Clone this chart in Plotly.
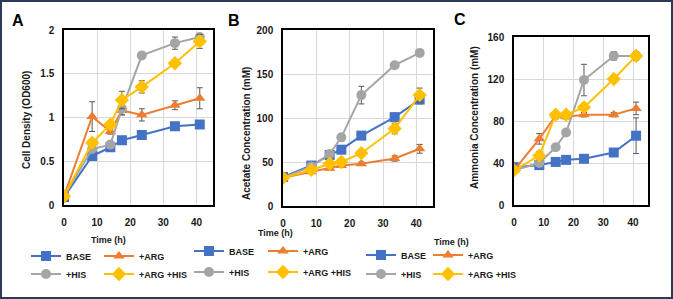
import plotly.graph_objects as go

W, H = 673, 299

time_h = [0, 8.5, 14, 17.5, 23.5, 33.5, 41]
series_names = ["BASE", "+ARG", "+HIS", "+ARG +HIS"]
series_colors = ["#4472C4", "#ED7D31", "#A5A5A5", "#FFC000"]
series_symbols = ["square", "triangle-up", "circle", "diamond"]
series_sizes = [10, 10, 10, 11]

# Panel A: cell density (OD600)
base_od = [0.09, 0.56, 0.66, 0.74, 0.80, 0.90, 0.92]
arg_od = [0.10, 1.01, 0.84, 1.08, 1.03, 1.14, 1.22]
his_od = [0.10, 0.64, 0.69, 1.10, 1.71, 1.85, 1.92]
arghis_od = [0.10, 0.71, 0.92, 1.20, 1.35, 1.62, 1.87]
base_od_err = [0.0, 0.02, 0.02, 0.02, 0.02, 0.03, 0.03]
arg_od_err = [0.0, 0.17, 0.03, 0.05, 0.07, 0.05, 0.12]
his_od_err = [0.0, 0.02, 0.02, 0.07, 0.02, 0.07, 0.03]
arghis_od_err = [0.0, 0.02, 0.03, 0.10, 0.07, 0.03, 0.08]

# Panel B: acetate (mM)
base_ac = [33, 46, 58, 64, 80, 101, 121]
arg_ac = [32, 39, 43, 46, 48, 54, 65]
his_ac = [32, 45, 59, 78, 126, 160, 174]
arghis_ac = [32, 41, 48, 50, 60, 88, 126]
base_ac_err = [2, 2, 2, 2, 3, 3, 5]
arg_ac_err = [1, 2, 2, 2, 2, 3, 5]
his_ac_err = [1, 2, 2, 2, 10, 2, 2]
arghis_ac_err = [1, 2, 2, 2, 2, 6, 8]

# Panel C: ammonia (mM)
base_nh = [36, 38, 41, 43, 44, 50, 66]
arg_nh = [33, 63, 85, 84, 86, 86, 92]
his_nh = [33, 40, 55, 69, 119, 142, 142]
arghis_nh = [33, 47, 86, 86, 93, 120, 142]
base_nh_err = [1, 1, 1, 1, 1, 2, 17]
arg_nh_err = [1, 5, 3, 2, 2, 2, 6]
his_nh_err = [1, 2, 2, 2, 15, 4, 4]
arghis_nh_err = [1, 4, 3, 2, 2, 3, 4]

panel_letters = ["A", "B", "C"]
y_titles = ["Cell Density (OD600)", "Acetate Concentration (mM)", "Ammonia Concentration (mM)"]
x_title = "Time (h)"
x_ticks = [0, 10, 20, 30, 40]
y_ticks = [[0, 0.5, 1, 1.5, 2], [0, 50, 100, 150, 200], [0, 40, 80, 120, 160]]
y_ranges = [[0, 2], [0, 200], [0, 160]]

panels = [
    ([base_od, arg_od, his_od, arghis_od], [base_od_err, arg_od_err, his_od_err, arghis_od_err]),
    ([base_ac, arg_ac, his_ac, arghis_ac], [base_ac_err, arg_ac_err, his_ac_err, arghis_ac_err]),
    ([base_nh, arg_nh, his_nh, arghis_nh], [base_nh_err, arg_nh_err, his_nh_err, arghis_nh_err]),
]

FONT = "Liberation Sans, Arial, sans-serif"
TXT = "#1a1a1a"

def px_x(p):
    return p / W

def px_y(p):
    return 1 - p / H

# plot areas in pixels: (left, right, top, bottom)
boxes = [(64, 213, 30, 205), (283, 433, 30, 206), (514, 648, 37, 205)]
# legend entry anchors in pixels (line start x, row centre y) per panel and series
legend_spots = [
    [(33, 256), (106, 256), (33, 274), (106, 274)],
    [(196, 251), (270, 251), (196, 272), (270, 272)],
    [(368, 255), (435, 255), (368, 274), (435, 274)],
]

fig = go.Figure()
layout_legends = {}
for i, (vals, errs) in enumerate(panels):
    ax = "" if i == 0 else str(i + 1)
    for j in range(4):
        k = 4 * i + j
        legend_id = "legend" + ("" if k == 0 else str(k + 1))
        fig.add_trace(go.Scatter(
            x=time_h, y=vals[j], name=series_names[j], mode="lines+markers",
            line=dict(color=series_colors[j], width=2),
            marker=dict(symbol=series_symbols[j], color=series_colors[j], size=series_sizes[j]),
            error_y=dict(type="data", array=errs[j], visible=True, color="#595959",
                         thickness=1, width=3),
            xaxis="x" + ax, yaxis="y" + ax, legend=legend_id,
        ))
        lx, ly = legend_spots[i][j]
        layout_legends[legend_id] = dict(
            xref="container", yref="container",
            x=px_x(lx - 7), y=px_y(ly), xanchor="left", yanchor="middle",
            orientation="h", bgcolor="rgba(0,0,0,0)", font=dict(size=9, color=TXT),
            itemwidth=30,
        )

layout = dict(
    width=W, height=H, margin=dict(l=0, r=0, t=0, b=0, autoexpand=False),
    paper_bgcolor="white", plot_bgcolor="white",
    font=dict(family=FONT, size=10, color=TXT, weight="bold"),
    showlegend=True,
)
layout.update(layout_legends)

annotations = []
for i, (l, r, t, b) in enumerate(boxes):
    ax = "" if i == 0 else str(i + 1)
    layout["xaxis" + ax] = dict(
        domain=[px_x(l), px_x(r)], range=[0, 45], tickvals=x_ticks,
        showline=True, linecolor="black", linewidth=1.5, mirror=True,
        showgrid=True, gridcolor="#D9D9D9", gridwidth=1, zeroline=False,
        anchor="y" + ax, tickfont=dict(size=10, color=TXT), ticklabelstandoff=7,
    )
    layout["yaxis" + ax] = dict(
        domain=[px_y(b), px_y(t)], range=y_ranges[i], tickvals=y_ticks[i],
        showline=True, linecolor="black", linewidth=1.5, mirror=True,
        showgrid=True, gridcolor="#D9D9D9", gridwidth=1, zeroline=False,
        anchor="x" + ax, tickfont=dict(size=10, color=TXT), ticklabelstandoff=6,
    )

letter_pos = [(18, 21), (234, 21), (460, 20)]
ytitle_pos = [(27, 120), (247, 133), (475, 118)]
xtitle_pos = [(108, 240), (275, 233), (452, 242)]
for i in range(3):
    annotations.append(dict(text=panel_letters[i], x=px_x(letter_pos[i][0]), y=px_y(letter_pos[i][1]),
                            xref="paper", yref="paper", showarrow=False, xanchor="center", yanchor="middle",
                            font=dict(size=16, color="black", weight="bold")))
    annotations.append(dict(text=y_titles[i], x=px_x(ytitle_pos[i][0]), y=px_y(ytitle_pos[i][1]),
                            xref="paper", yref="paper", showarrow=False, textangle=-90,
                            xanchor="center", yanchor="middle",
                            font=dict(size=10, color=TXT)))
    annotations.append(dict(text=x_title, x=px_x(xtitle_pos[i][0]), y=px_y(xtitle_pos[i][1]),
                            xref="paper", yref="paper", showarrow=False, xanchor="center", yanchor="middle",
                            font=dict(size=9, color=TXT)))
layout["annotations"] = annotations

layout["shapes"] = [dict(type="rect", xref="paper", yref="paper", x0=0, x1=1, y0=0, y1=1,
                         line=dict(color="#2B3A57", width=4), fillcolor="rgba(0,0,0,0)")]

fig.update_layout(**layout)
fig.write_html("out.html", config={"displayModeBar": False},
               post_script="document.body.style.margin='0px';document.body.style.overflow='hidden';")
